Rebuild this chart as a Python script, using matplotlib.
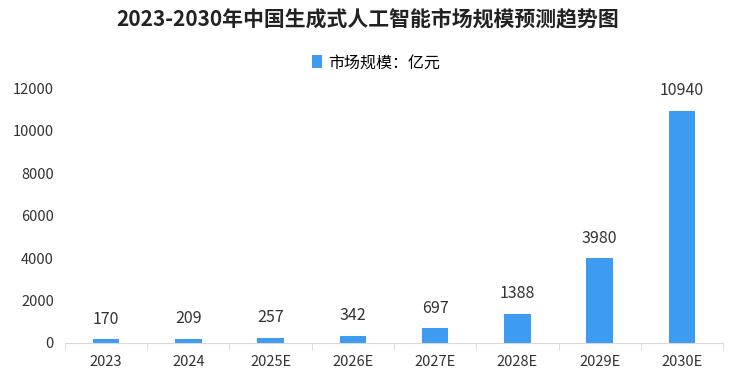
import matplotlib
matplotlib.use("Agg")
import matplotlib.pyplot as plt
from matplotlib.patches import Patch

plt.rcParams['font.family'] = ['Noto Sans CJK SC', 'DejaVu Sans']

# data
years = ['2023', '2024', '2025E', '2026E', '2027E', '2028E', '2029E', '2030E']
market_size = [170, 209, 257, 342, 697, 1388, 3980, 10940]

bar_color = '#3d9bf2'

fig = plt.figure(figsize=(7.35, 3.8), dpi=100)
ax = fig.add_axes([0.0884, 0.0974, 0.8953, 0.6706])

x = range(len(years))
bars = ax.bar(x, market_size, width=0.32, color=bar_color, zorder=2)

for xi, v in zip(x, market_size):
    ax.text(xi, v + 550, str(v), ha='center', va='bottom', fontsize=11.5, color='#333333')

ax.set_xlim(-0.5, len(years) - 0.5)
ax.set_ylim(0, 12000)
ax.set_yticks(range(0, 12001, 2000))
ax.set_xticks(list(x))
ax.set_xticklabels(years)
ax.set_xticks([i - 0.5 for i in range(len(years) + 1)], minor=True)

for s in ['top', 'right', 'left']:
    ax.spines[s].set_visible(False)
ax.spines['bottom'].set_color('#d9d9d9')
ax.tick_params(axis='y', length=0, labelsize=10.5, colors='#333333', pad=8)
ax.tick_params(axis='x', which='major', length=0, labelsize=10.5, colors='#333333', pad=9)
ax.tick_params(axis='x', which='minor', length=5, color='#d9d9d9')

fig.text(0.5, 0.95, '2023-2030年中国生成式人工智能市场规模预测趋势图',
         ha='center', va='center', fontsize=15, fontweight='bold', color='#222222')

handle = Patch(facecolor=bar_color, edgecolor='none')
fig.legend([handle], ['市场规模：亿元'], loc='center', bbox_to_anchor=(0.512, 0.835),
           frameon=False, fontsize=11.5, handlelength=0.6, handleheight=0.9, handletextpad=0.4)

fig.savefig('out.png', dpi=100, facecolor='white')
